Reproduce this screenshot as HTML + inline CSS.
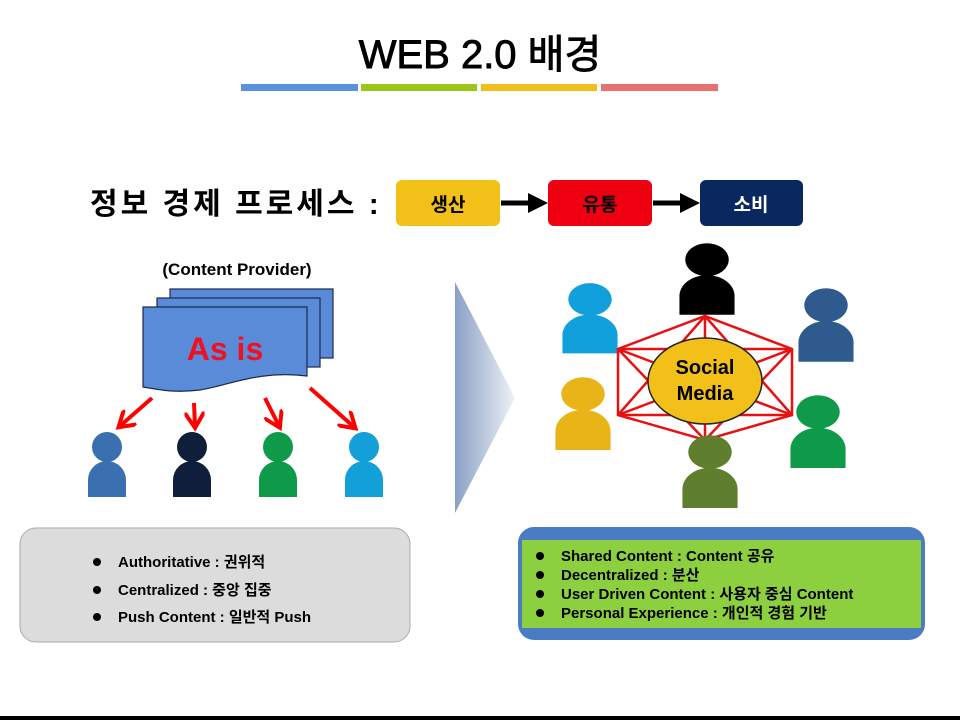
<!DOCTYPE html>
<html><head><meta charset="utf-8"><style>
body{margin:0;background:#fff;}
svg text{font-family:"Liberation Sans","Noto Sans CJK KR",sans-serif;font-weight:bold;}
</style></head><body>
<svg width="960" height="720" viewBox="0 0 960 720" xmlns="http://www.w3.org/2000/svg">
<defs>
<linearGradient id="tri" x1="0" x2="1"><stop offset="0" stop-color="#8aa0c4"/><stop offset="1" stop-color="#eef2f8"/></linearGradient>
<g id="p"><circle cx="0" cy="17" r="15"/><path d="M-19,67 V50 A19,19 0 0 1 19,50 V67 Z"/></g>
<marker id="ar" markerWidth="5" markerHeight="5" refX="3.5" refY="2.5" orient="auto" markerUnits="strokeWidth"><path d="M0,0 L4,2.5 L0,5" fill="none" stroke="#f00" stroke-width="1"/></marker>
<marker id="bk" markerWidth="4" markerHeight="4" refX="2" refY="2" orient="auto" markerUnits="strokeWidth"><path d="M0,0 L4,2 L0,4Z" fill="#000"/></marker>
</defs>
<text x="480" y="68" font-size="40" text-anchor="middle" style="font-weight:normal" stroke="#000" stroke-width="0.9">WEB 2.0 배경</text>
<rect x="241" y="84" width="117" height="7" fill="#5b8fe0"/>
<rect x="361" y="84" width="116" height="7" fill="#9cc51a"/>
<rect x="481" y="84" width="116" height="7" fill="#f2bf1a"/>
<rect x="601" y="84" width="117" height="7" fill="#e87070"/>

<text x="90" y="214" font-size="30" letter-spacing="3">정보 경제 프로세스 :</text>
<rect x="396" y="180" width="104" height="46" rx="6" fill="#f2c018"/>
<text x="448" y="211" font-size="19" text-anchor="middle">생산</text>
<rect x="548" y="180" width="104" height="46" rx="6" fill="#ee0010"/>
<text x="600" y="211" font-size="19" text-anchor="middle">유통</text>
<rect x="700" y="180" width="103" height="46" rx="6" fill="#0a2860"/>
<text x="751" y="211" font-size="19" text-anchor="middle" fill="#fff">소비</text>
<line x1="501" y1="203" x2="538" y2="203" stroke="#000" stroke-width="5" marker-end="url(#bk)"/>
<line x1="653" y1="203" x2="690" y2="203" stroke="#000" stroke-width="5" marker-end="url(#bk)"/>

<text x="237" y="275" font-size="17" text-anchor="middle">(Content Provider)</text>
<g fill="#5a8bd8" stroke="#1a2a50" stroke-width="1.2">
<rect x="170" y="289" width="163" height="69"/>
<rect x="157" y="298" width="163" height="69"/>
<path d="M143,307 H307 V376 C260,370 230,385 200,390 C175,393 160,390 143,387 Z"/>
</g>
<text x="225" y="360" font-size="32" fill="#f01020" text-anchor="middle">As is</text>
<g stroke="#f00" stroke-width="4" marker-end="url(#ar)">
<line x1="152" y1="398" x2="120" y2="426"/>
<line x1="194" y1="403" x2="195" y2="426"/>
<line x1="265" y1="398" x2="279" y2="426"/>
<line x1="310" y1="388" x2="354" y2="427"/>
</g>
<use href="#p" x="107" y="430" fill="#3a6fb0"/>
<use href="#p" x="192" y="430" fill="#0f1e3a"/>
<use href="#p" x="278" y="430" fill="#0e9a48"/>
<use href="#p" x="364" y="430" fill="#139fd8"/>

<path d="M455,282 L515,398 L455,513 Z" fill="url(#tri)"/>

<g transform="translate(707,241) scale(1.45,1.1)" fill="#000"><use href="#p"/></g>
<g transform="translate(590,281) scale(1.45,1.08)" fill="#12a0dc"><use href="#p"/></g>
<g transform="translate(826,286) scale(1.45,1.13)" fill="#2e5a8e"><use href="#p"/></g>
<g transform="translate(583,375) scale(1.45,1.12)" fill="#e8b417"><use href="#p"/></g>
<g transform="translate(818,393) scale(1.45,1.12)" fill="#0e9a48"><use href="#p"/></g>
<g stroke="#e81010" stroke-width="2.5" fill="none">
<path d="M705,316 L792,349 L792,415 L705,440 L618,415 L618,349 Z"/>
<path d="M705,316 L705,440 M705,316 L618,415 M705,316 L792,415 M618,349 L792,349 M618,349 L792,415 M618,349 L705,440 M792,349 L618,415 M792,349 L705,440 M618,415 L792,415"/>
</g>
<ellipse cx="705" cy="381" rx="57" ry="43" fill="#f2c018" stroke="#222" stroke-width="1.5"/>
<text x="705" y="374" font-size="20" text-anchor="middle">Social</text>
<text x="705" y="400" font-size="20" text-anchor="middle">Media</text>
<g transform="translate(710,433) scale(1.45,1.12)" fill="#5f7f2e"><use href="#p"/></g>

<rect x="20" y="528" width="390" height="114" rx="16" fill="#dcdcdc" stroke="#aaa" stroke-width="1"/>
<g font-size="15">
<circle cx="97" cy="562" r="4"/><text x="118" y="567">Authoritative : 권위적</text>
<circle cx="97" cy="590" r="4"/><text x="118" y="595">Centralized : 중앙 집중</text>
<circle cx="97" cy="617" r="4"/><text x="118" y="622">Push Content : 일반적 Push</text>
</g>
<rect x="518" y="527" width="407" height="113" rx="16" fill="#4a7cc4"/>
<rect x="522" y="540" width="399" height="88" fill="#8cd040"/>
<g font-size="15">
<circle cx="540" cy="556" r="4"/><text x="561" y="561">Shared Content : Content 공유</text>
<circle cx="540" cy="575" r="4"/><text x="561" y="580">Decentralized : 분산</text>
<circle cx="540" cy="594" r="4"/><text x="561" y="599">User Driven Content : 사용자 중심 Content</text>
<circle cx="540" cy="613" r="4"/><text x="561" y="618">Personal Experience : 개인적 경험 기반</text>
</g>
<rect x="0" y="716" width="960" height="4" fill="#000"/>
</svg>
</body></html>
